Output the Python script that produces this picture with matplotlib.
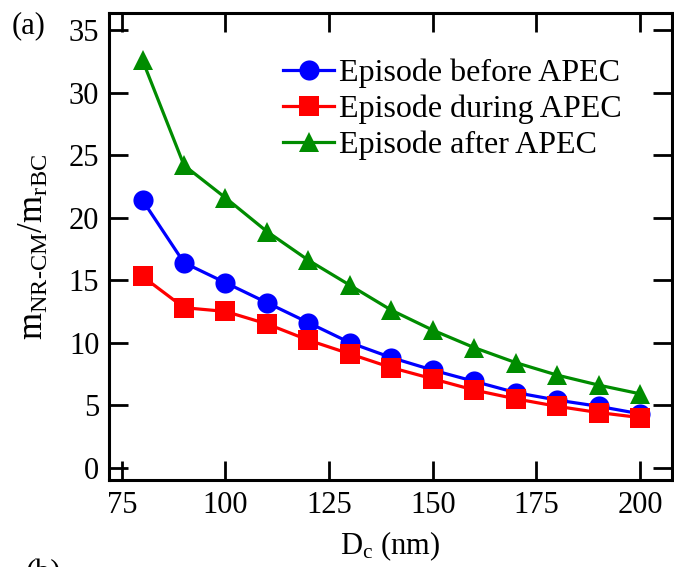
import numpy as np
import matplotlib
matplotlib.use('Agg')
import matplotlib.pyplot as plt

plt.rcParams['font.family'] = ['Liberation Serif', 'DejaVu Serif']
plt.rcParams['mathtext.fontset'] = 'custom'
plt.rcParams['mathtext.rm'] = 'Liberation Serif'
plt.rcParams['mathtext.it'] = 'Liberation Serif:italic'

# particle core diameter (nm)
dc = [80, 90, 100, 110, 120, 130, 140, 150, 160, 170, 180, 190, 200]

# coating mass ratio per episode
before_apec = [21.4, 16.4, 14.8, 13.2, 11.6, 10.0, 8.8, 7.8, 6.9, 6.0, 5.4, 4.9, 4.3]
during_apec = [15.3, 12.8, 12.5, 11.5, 10.2, 9.1, 8.0, 7.1, 6.2, 5.5, 4.9, 4.4, 4.0]
after_apec = [32.6, 24.2, 21.6, 18.9, 16.6, 14.6, 12.6, 11.0, 9.6, 8.4, 7.4, 6.6, 5.9]

labels = ['Episode before APEC', 'Episode during APEC', 'Episode after APEC']
xticks = [75, 100, 125, 150, 175, 200]
yticks = [0, 5, 10, 15, 20, 25, 30, 35]

fig = plt.figure(figsize=(6.74, 5.67), dpi=100)
ax = fig.add_axes([109/674, 87/567, 563/674, 467/567])

ax.plot(dc, before_apec, color='#0000ff', lw=2.3, marker='o', ms=14.5, mew=0, label=labels[0])
ax.plot(dc, during_apec, color='#ff0000', lw=2.3, marker='s', ms=14, mew=0, label=labels[1])
ax.plot(dc, after_apec, color='#008c00', lw=2.3, marker='^', ms=15, mew=0, label=labels[2])

ax.set_xlim(71.9, 207.7)
ax.set_ylim(-1.0, 36.4)
ax.set_xticks(xticks)
ax.set_yticks(yticks)

for s in ax.spines.values():
    s.set_linewidth(2.2)
ax.tick_params(direction='in', length=14, width=2.0, top=True, right=True,
               labelsize=22)
ax.tick_params(axis='y', pad=7)
ax.tick_params(axis='x', pad=8)

ax.set_xlabel(r'D$_\mathrm{c}$ (nm)', fontsize=22, labelpad=7)
ax.set_ylabel(r'$\mathrm{m}_{\mathrm{NR\text{-}CM}}/\mathrm{m}_{\mathrm{rBC}}$', fontsize=25, labelpad=13)

leg = ax.legend(loc='upper left', bbox_to_anchor=(0.309, 0.902), frameon=False,
                fontsize=23, borderpad=0, borderaxespad=0, handlelength=1.6,
                handletextpad=0.15, labelspacing=0.2)

fig.text(12/674, 1 - 26/567, '(a)', fontsize=22, va='center', ha='left')
fig.text(26/674, 1 - 559/567, '(b)', fontsize=22, va='top', ha='left')

plt.savefig('out.png', dpi=100)
